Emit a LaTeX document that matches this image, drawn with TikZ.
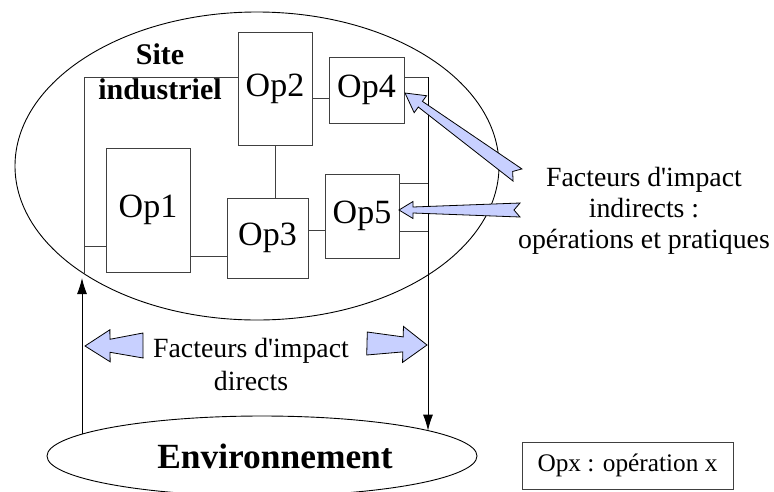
\documentclass[tikz,border=0pt]{standalone}
\usepackage{fontspec}
\setmainfont{Liberation Serif}[Ligatures=TeXOff]
\usetikzlibrary{shapes.geometric,arrows.meta,calc}
\definecolor{arrfill}{RGB}{200,208,255}
\definecolor{boxline}{RGB}{64,64,64}
\newcommand\blockarr[7]{%
  \filldraw[barrow] let \p1=(#1), \p2=(#2),
    \n1={atan2(\y2-\y1,\x2-\x1)}, \n2={veclen(\x2-\x1,\y2-\y1)} in
    {[shift={(\p1)}, rotate=\n1, x=1pt, y=1pt]
     (0,0) -- (#3,#4) -- (#3,#5) -- (\n2,#6) -- (\n2-#7,0) -- (\n2,-#6)
     -- (#3,-#5) -- (#3,-#4) -- cycle};}
\begin{document}
\begin{tikzpicture}[x=1pt,y=-1pt,
  opbox/.style={draw=boxline, line width=1pt, inner sep=0pt, fill=white,
    font=\fontsize{34}{40}\selectfont},
  conn/.style={draw=boxline, line width=1pt},
  arr/.style={draw=black, line width=0.9pt, -{Latex[length=16pt,width=10pt]}},
  barrow/.style={fill=arrfill, draw=black, line width=0.8pt, line join=miter},
  lbl/.style={inner sep=0pt, align=center, font=\fontsize{27.8}{31}\selectfont}]
\useasboundingbox (0,0) rectangle (774,491);
\fill[white] (0,0) rectangle (774,491);
% ellipses
\node[ellipse, draw, line width=0.9pt, inner sep=0pt, minimum width=484pt, minimum height=308pt] (site) at (257,166) {};
\node[ellipse, draw, line width=0.9pt, inner sep=0pt, minimum width=430pt, minimum height=80pt] (env) at (262,456) {};
\node[inner sep=0pt, font=\fontsize{35.4}{40}\selectfont\bfseries] (envtxt) at (275,456) {Environnement};
% operations
\node[opbox, minimum width=74pt, minimum height=113pt] (op2) at (275,88.5) {Op2};
\node[opbox, minimum width=75pt, minimum height=66pt] (op4) at (366.5,90) {Op4};
\node[opbox, minimum width=84pt, minimum height=124pt] (op1) at (148,210) {Op1};
\node[opbox, minimum width=81pt, minimum height=80pt] (op3) at (267.5,238) {Op3};
\node[opbox, minimum width=74pt, minimum height=84pt] (op5) at (362,216) {Op5};
% labels
\node[lbl, font=\fontsize{30}{35}\selectfont\bfseries] (sitetxt) at (160,72) {Site\\industriel};
\node[lbl] (indtxt) at (644,211) {Facteurs d'impact\\indirects :\\opérations et pratiques};
\node[lbl, font=\fontsize{27.8}{33}\selectfont] (dirtxt) at (251,364) {Facteurs d'impact\\directs};
\node[draw=boxline, line width=1pt, inner sep=0pt, minimum width=211pt, minimum height=47pt,
  font=\fontsize{25.3}{30}\selectfont] (legend) at (627.5,465.5) {Opx : opération x};
% frame coordinates
\coordinate (tl) at (84,77);
\coordinate (bl) at (84,273.7);
\coordinate (j1) at (84,246);
\coordinate (tr) at (428,77);
\coordinate (er) at (428,430.6);
\coordinate (el) at (82,434);
\coordinate (up) at (82,278);
\coordinate (y24) at (0,98);
\coordinate (y13) at (0,256);
\coordinate (y35) at (0,230);
\coordinate (y5a) at (0,183);
\coordinate (y5b) at (0,231);
% connectors
\draw[conn] (bl) -- (tl) -- (tl -| op2.west);
\draw[conn] (j1) -- (j1 -| op1.west);
\draw[conn] (op4.east |- tr) -- (tr);
\draw[conn] (y24 -| op2.east) -- (y24 -| op4.west);
\draw[conn] (op2.south) -- (op2.south |- op3.north);
\draw[conn] (y13 -| op1.east) -- (y13 -| op3.west);
\draw[conn] (y35 -| op3.east) -- (y35 -| op5.west);
\draw[conn] (y5a -| op5.east) -- (y5a -| tr);
\draw[conn] (y5b -| op5.east) -- (y5b -| tr);
\draw[arr] (tr) -- (er);
\draw[arr] (el) -- (up);
% block arrows
\coordinate (a4tip) at (405,93);
\coordinate (a4tail) at (517.5,175);
\coordinate (a5tip) at (399,210);
\coordinate (a5tail) at (520,210);
\coordinate (dltip) at (85,346);
\coordinate (dltail) at (143,345.5);
\coordinate (drtip) at (427,345);
\coordinate (drtail) at (367,343.5);
\blockarr{a4tip}{a4tail}{19}{10.5}{3.5}{7.5}{6}
\blockarr{a5tip}{a5tail}{14}{8.5}{3}{7}{6}
\blockarr{dltip}{dltail}{25}{16}{6.5}{12.5}{0}
\blockarr{drtip}{drtail}{24}{18}{7.5}{11.5}{0}
\end{tikzpicture}
\end{document}
